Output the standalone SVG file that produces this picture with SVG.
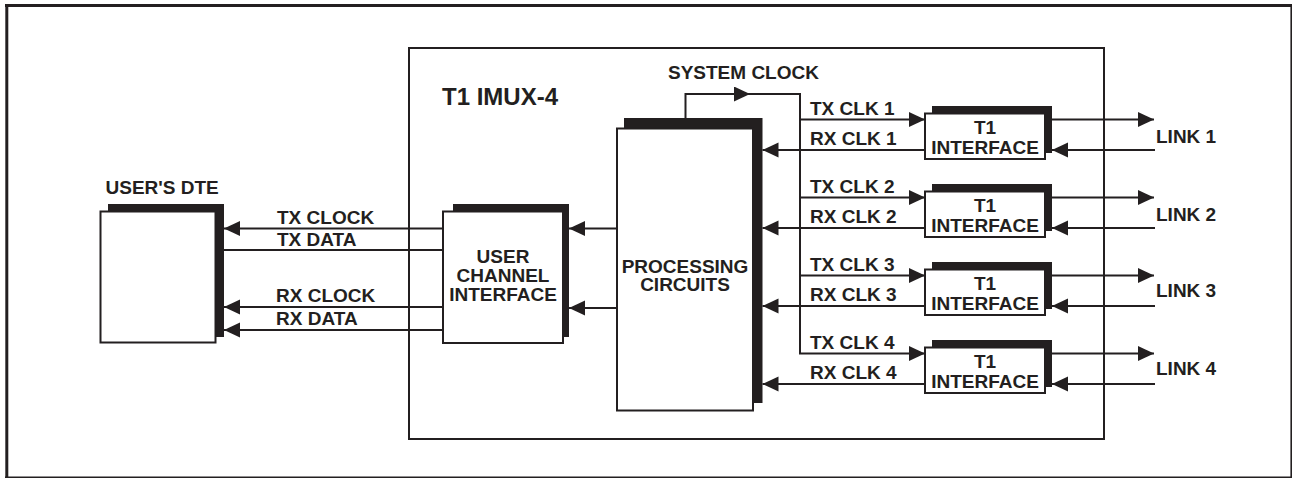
<svg xmlns="http://www.w3.org/2000/svg" width="1292" height="478" viewBox="0 0 1292 478">
<style>
  .t { font-family: "Liberation Sans", Arial, Helvetica, sans-serif; font-weight: bold; font-size: 19px; fill: #231f20; }
  .c { text-anchor: middle; }
  .front { fill: #ffffff; stroke: #231f20; stroke-width: 2; }
  .shadow { fill: #231f20; stroke: none; }
  .ln { fill: none; stroke: #231f20; stroke-width: 2; }
  .frame { fill: none; stroke: #231f20; }
</style>
<defs>
  <marker id="arr" markerUnits="userSpaceOnUse" markerWidth="17" markerHeight="16" refX="16" refY="7.5" orient="auto">
    <path d="M0,0 L16,7.5 L0,15 z" fill="#231f20"/>
  </marker>
</defs>
<rect x="0" y="0" width="1292" height="478" fill="#ffffff"/>
<g id="page-frame">
  <line class="frame" x1="5" y1="5.5" x2="1292" y2="5.5" stroke-width="3"/>
  <line class="frame" x1="6.8" y1="4" x2="6.8" y2="478" stroke-width="3"/>
  <line class="frame" x1="5" y1="477.2" x2="1292" y2="477.2" stroke-width="1.6" stroke="#444"/>
  <line class="frame" x1="1291.2" y1="4" x2="1291.2" y2="478" stroke-width="1.6" stroke="#555"/>
</g>
<g id="imux">
  <rect x="409" y="48" width="695" height="391" fill="none" stroke="#231f20" stroke-width="2"/>
  <text class="t" x="442" y="105" style="font-size:24px">T1 IMUX-4</text>
</g>
<g id="dte">
  <text class="t" x="105.5" y="193.5">USER'S DTE</text>
  <rect class="shadow" x="108" y="204" width="116" height="133"/>
  <rect class="front" x="100.5" y="211.5" width="115" height="131"/>
</g>
<g id="uci">
  <rect class="shadow" x="453" y="204" width="116" height="133"/>
  <rect class="front" x="443" y="211.5" width="120" height="131.5"/>
  <text class="t c" x="503" y="262.5">USER</text>
  <text class="t c" x="503" y="281.5">CHANNEL</text>
  <text class="t c" x="503" y="300.5">INTERFACE</text>
</g>
<g id="processing">
  <rect class="shadow" x="624" y="118" width="138.5" height="285"/>
  <rect class="front" x="617" y="128.5" width="136" height="282"/>
  <text class="t c" x="685" y="272.5">PROCESSING</text>
  <text class="t c" x="685" y="291">CIRCUITS</text>
</g>
<g id="t1-1">
  <rect class="shadow" x="932" y="106" width="120" height="47"/>
  <rect class="front" x="925" y="113.5" width="120" height="45.5"/>
  <text class="t c" x="985" y="133.5">T1</text>
  <text class="t c" x="985" y="153.5">INTERFACE</text>
</g>
<g id="t1-2">
  <rect class="shadow" x="932" y="184" width="120" height="47"/>
  <rect class="front" x="925" y="191.5" width="120" height="45.5"/>
  <text class="t c" x="985" y="211.5">T1</text>
  <text class="t c" x="985" y="231.5">INTERFACE</text>
</g>
<g id="t1-3">
  <rect class="shadow" x="932" y="262" width="120" height="47"/>
  <rect class="front" x="925" y="269.5" width="120" height="45.5"/>
  <text class="t c" x="985" y="289.5">T1</text>
  <text class="t c" x="985" y="309.5">INTERFACE</text>
</g>
<g id="t1-4">
  <rect class="shadow" x="932" y="340" width="120" height="47"/>
  <rect class="front" x="925" y="347.5" width="120" height="45.5"/>
  <text class="t c" x="985" y="367.5">T1</text>
  <text class="t c" x="985" y="387.5">INTERFACE</text>
</g>
<g id="connectors">
  <!-- DTE side -->
  <line class="ln" x1="443" y1="228.5" x2="224" y2="228.5" marker-end="url(#arr)"/>
  <line class="ln" x1="443" y1="250" x2="224" y2="250"/>
  <line class="ln" x1="443" y1="307" x2="224" y2="307" marker-end="url(#arr)"/>
  <line class="ln" x1="443" y1="330" x2="224" y2="330" marker-end="url(#arr)"/>
  <text class="t" x="277" y="223.5">TX CLOCK</text>
  <text class="t" x="277" y="245.5">TX DATA</text>
  <text class="t" x="276" y="301.5">RX CLOCK</text>
  <text class="t" x="276" y="325">RX DATA</text>
  <!-- PC to UCI -->
  <line class="ln" x1="617" y1="228.5" x2="569" y2="228.5" marker-end="url(#arr)"/>
  <line class="ln" x1="617" y1="308" x2="569" y2="308" marker-end="url(#arr)"/>
  <!-- system clock -->
  <path class="ln" d="M685.5,118 V94 H750" marker-end="url(#arr)"/>
  <path class="ln" d="M748,94 H800 V353"/>
  <text class="t" x="668" y="79">SYSTEM CLOCK</text>
  <!-- row 1 -->
  <line class="ln" x1="799" y1="119.5" x2="925" y2="119.5" marker-end="url(#arr)"/>
  <line class="ln" x1="925" y1="150" x2="762.5" y2="150" marker-end="url(#arr)"/>
  <line class="ln" x1="1052" y1="119.5" x2="1154" y2="119.5" marker-end="url(#arr)"/>
  <line class="ln" x1="1155" y1="150" x2="1052" y2="150" marker-end="url(#arr)"/>
  <text class="t" x="810" y="115">TX CLK 1</text>
  <text class="t" x="810" y="145">RX CLK 1</text>
  <text class="t" x="1156" y="142.5">LINK 1</text>
  <!-- row 2 -->
  <line class="ln" x1="799" y1="197.5" x2="925" y2="197.5" marker-end="url(#arr)"/>
  <line class="ln" x1="925" y1="228" x2="762.5" y2="228" marker-end="url(#arr)"/>
  <line class="ln" x1="1052" y1="197.5" x2="1154" y2="197.5" marker-end="url(#arr)"/>
  <line class="ln" x1="1155" y1="228" x2="1052" y2="228" marker-end="url(#arr)"/>
  <text class="t" x="810" y="193">TX CLK 2</text>
  <text class="t" x="810" y="223">RX CLK 2</text>
  <text class="t" x="1156" y="220.5">LINK 2</text>
  <!-- row 3 -->
  <line class="ln" x1="799" y1="275.5" x2="925" y2="275.5" marker-end="url(#arr)"/>
  <line class="ln" x1="925" y1="306" x2="762.5" y2="306" marker-end="url(#arr)"/>
  <line class="ln" x1="1052" y1="275.5" x2="1154" y2="275.5" marker-end="url(#arr)"/>
  <line class="ln" x1="1155" y1="306" x2="1052" y2="306" marker-end="url(#arr)"/>
  <text class="t" x="810" y="271">TX CLK 3</text>
  <text class="t" x="810" y="301">RX CLK 3</text>
  <text class="t" x="1156" y="297">LINK 3</text>
  <!-- row 4 -->
  <line class="ln" x1="799" y1="353.5" x2="925" y2="353.5" marker-end="url(#arr)"/>
  <line class="ln" x1="925" y1="384" x2="762.5" y2="384" marker-end="url(#arr)"/>
  <line class="ln" x1="1052" y1="353.5" x2="1154" y2="353.5" marker-end="url(#arr)"/>
  <line class="ln" x1="1155" y1="384" x2="1052" y2="384" marker-end="url(#arr)"/>
  <text class="t" x="810" y="349">TX CLK 4</text>
  <text class="t" x="810" y="379">RX CLK 4</text>
  <text class="t" x="1156" y="375">LINK 4</text>
</g>
</svg>
